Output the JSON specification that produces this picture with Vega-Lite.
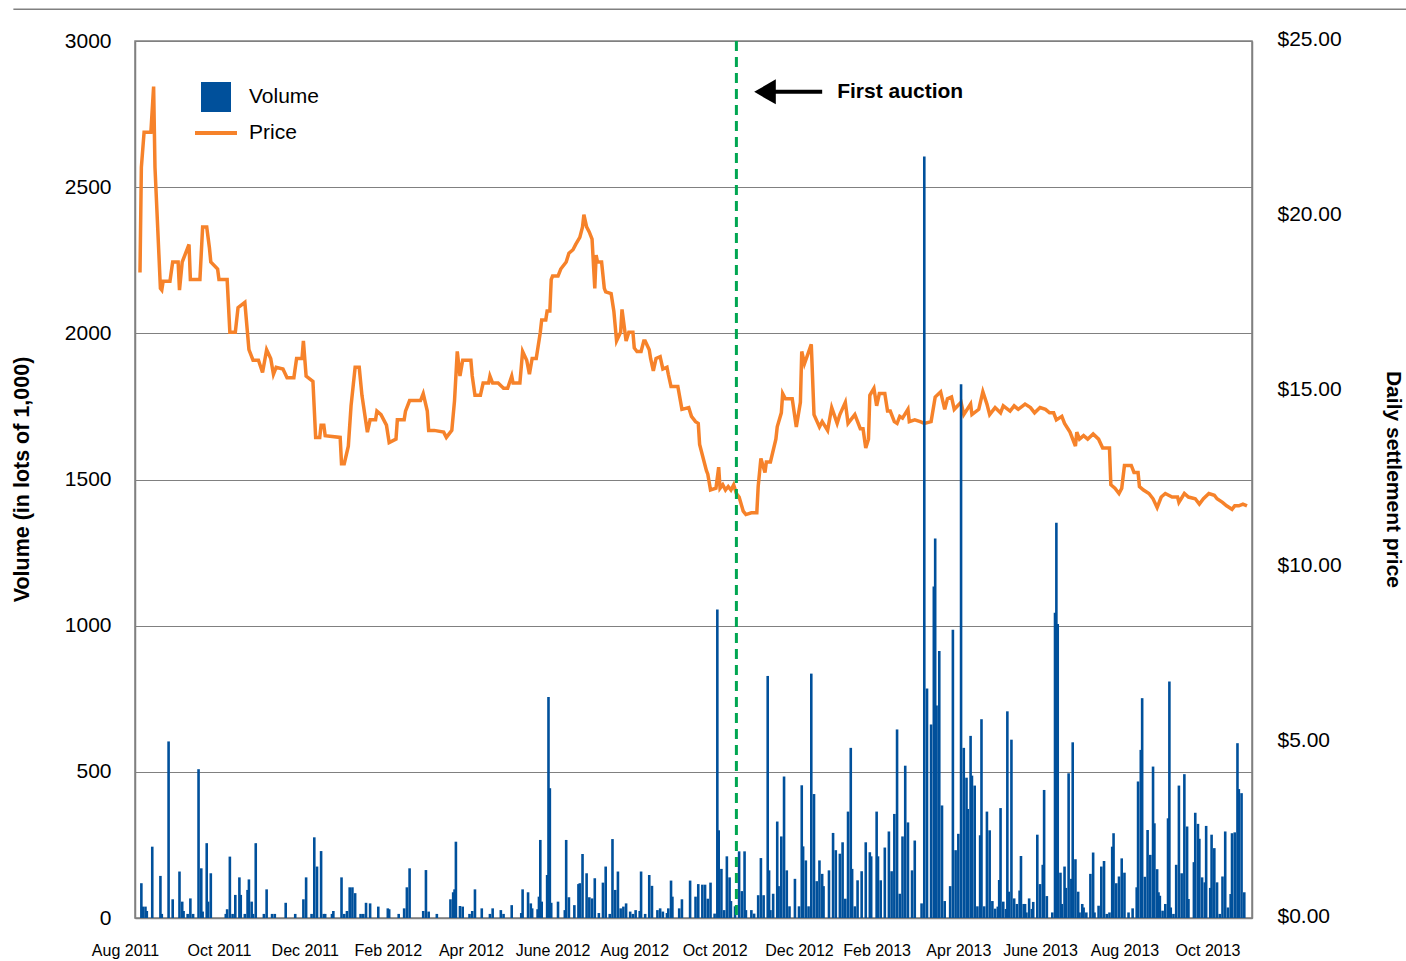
{
  "$schema": "https://vega.github.io/schema/vega-lite/v6.json",
  "width": 1117,
  "height": 877,
  "autosize": "none",
  "padding": {"left": 135, "top": 41, "right": 154, "bottom": 43},
  "background": "#ffffff",
  "config": {
    "font": "Liberation Sans",
    "view": {"stroke": "#808080", "strokeWidth": 1.5},
    "axis": {"domainColor": "#808080", "domainWidth": 1.5, "gridColor": "#808080", "gridWidth": 1, "ticks": false, "labelColor": "#000000", "titleColor": "#000000"}
  },
  "datasets": {
    "price": [
      {"date":"2011-08-09","price":18.4},{"date":"2011-08-10","price":21.4},{"date":"2011-08-12","price":22.4},{"date":"2011-08-17","price":22.4},{"date":"2011-08-19","price":23.7},{"date":"2011-08-20","price":21.4},{"date":"2011-08-24","price":17.95},{"date":"2011-08-25","price":17.9},{"date":"2011-08-26","price":18.15},{"date":"2011-08-31","price":18.15},
      {"date":"2011-09-02","price":18.7},{"date":"2011-09-06","price":18.7},{"date":"2011-09-07","price":17.9},{"date":"2011-09-09","price":18.7},{"date":"2011-09-14","price":19.2},{"date":"2011-09-15","price":18.2},{"date":"2011-09-22","price":18.2},{"date":"2011-09-24","price":19.7},{"date":"2011-09-27","price":19.7},{"date":"2011-09-29","price":19.1},{"date":"2011-09-30","price":18.7},
      {"date":"2011-10-05","price":18.5},{"date":"2011-10-06","price":18.2},{"date":"2011-10-12","price":18.2},{"date":"2011-10-14","price":16.7},{"date":"2011-10-18","price":16.7},{"date":"2011-10-20","price":17.4},{"date":"2011-10-25","price":17.55},{"date":"2011-10-28","price":16.2},{"date":"2011-10-31","price":15.9},
      {"date":"2011-11-04","price":15.9},{"date":"2011-11-07","price":15.55},{"date":"2011-11-10","price":16.2},{"date":"2011-11-13","price":15.95},{"date":"2011-11-15","price":15.5},{"date":"2011-11-17","price":15.7},{"date":"2011-11-22","price":15.65},{"date":"2011-11-25","price":15.4},{"date":"2011-11-30","price":15.4},
      {"date":"2011-12-02","price":15.95},{"date":"2011-12-06","price":15.95},{"date":"2011-12-07","price":16.45},{"date":"2011-12-09","price":15.45},{"date":"2011-12-14","price":15.3},{"date":"2011-12-16","price":13.7},{"date":"2011-12-19","price":13.7},{"date":"2011-12-20","price":14.05},{"date":"2011-12-22","price":14.05},{"date":"2011-12-23","price":13.75},
      {"date":"2012-01-03","price":13.7},{"date":"2012-01-04","price":12.95},{"date":"2012-01-06","price":12.95},{"date":"2012-01-09","price":13.45},{"date":"2012-01-11","price":14.6},{"date":"2012-01-14","price":15.7},{"date":"2012-01-17","price":15.7},{"date":"2012-01-19","price":14.9},{"date":"2012-01-23","price":13.85},{"date":"2012-01-25","price":14.2},{"date":"2012-01-29","price":14.2},{"date":"2012-01-30","price":14.45},
      {"date":"2012-02-02","price":14.35},{"date":"2012-02-06","price":14.05},{"date":"2012-02-08","price":13.55},{"date":"2012-02-13","price":13.65},{"date":"2012-02-14","price":14.2},{"date":"2012-02-19","price":14.2},{"date":"2012-02-20","price":14.45},{"date":"2012-02-23","price":14.75},
      {"date":"2012-03-02","price":14.75},{"date":"2012-03-04","price":14.95},{"date":"2012-03-07","price":14.45},{"date":"2012-03-08","price":13.9},{"date":"2012-03-12","price":13.9},{"date":"2012-03-19","price":13.85},{"date":"2012-03-21","price":13.7},{"date":"2012-03-25","price":13.9},{"date":"2012-03-27","price":14.75},{"date":"2012-03-29","price":16.15},{"date":"2012-03-31","price":15.45},
      {"date":"2012-04-02","price":15.9},{"date":"2012-04-08","price":15.9},{"date":"2012-04-09","price":15.45},{"date":"2012-04-11","price":14.9},{"date":"2012-04-15","price":14.9},{"date":"2012-04-17","price":15.25},{"date":"2012-04-21","price":15.25},{"date":"2012-04-22","price":15.45},{"date":"2012-04-24","price":15.25},{"date":"2012-04-28","price":15.25},
      {"date":"2012-05-02","price":15.1},{"date":"2012-05-05","price":15.1},{"date":"2012-05-08","price":15.45},{"date":"2012-05-09","price":15.25},{"date":"2012-05-14","price":15.25},{"date":"2012-05-16","price":16.15},{"date":"2012-05-19","price":15.9},{"date":"2012-05-21","price":15.5},{"date":"2012-05-23","price":15.95},{"date":"2012-05-26","price":15.95},{"date":"2012-05-29","price":16.7},{"date":"2012-05-30","price":17.05},
      {"date":"2012-06-02","price":17.05},{"date":"2012-06-03","price":17.3},{"date":"2012-06-05","price":17.3},{"date":"2012-06-06","price":18.2},{"date":"2012-06-07","price":18.3},{"date":"2012-06-11","price":18.3},{"date":"2012-06-13","price":18.5},{"date":"2012-06-17","price":18.7},{"date":"2012-06-19","price":18.95},{"date":"2012-06-22","price":19.05},{"date":"2012-06-24","price":19.2},{"date":"2012-06-27","price":19.4},{"date":"2012-06-29","price":19.7},{"date":"2012-06-30","price":20.05},
      {"date":"2012-07-02","price":19.7},{"date":"2012-07-04","price":19.55},{"date":"2012-07-06","price":19.35},{"date":"2012-07-08","price":17.95},{"date":"2012-07-09","price":18.9},{"date":"2012-07-10","price":18.7},{"date":"2012-07-13","price":18.7},{"date":"2012-07-15","price":17.95},{"date":"2012-07-16","price":17.85},{"date":"2012-07-20","price":17.8},{"date":"2012-07-22","price":17.3},{"date":"2012-07-24","price":16.45},{"date":"2012-07-27","price":16.7},{"date":"2012-07-28","price":17.35},{"date":"2012-07-31","price":16.45},
      {"date":"2012-08-02","price":16.7},{"date":"2012-08-05","price":16.7},{"date":"2012-08-06","price":16.25},{"date":"2012-08-08","price":16.15},{"date":"2012-08-11","price":16.15},{"date":"2012-08-13","price":16.45},{"date":"2012-08-14","price":16.45},{"date":"2012-08-17","price":16.2},{"date":"2012-08-18","price":15.95},{"date":"2012-08-20","price":15.6},{"date":"2012-08-22","price":15.95},{"date":"2012-08-25","price":16.0},{"date":"2012-08-27","price":15.65},{"date":"2012-08-30","price":15.7},{"date":"2012-08-31","price":15.5},
      {"date":"2012-09-02","price":15.15},{"date":"2012-09-07","price":15.15},{"date":"2012-09-10","price":14.5},{"date":"2012-09-15","price":14.55},{"date":"2012-09-17","price":14.3},{"date":"2012-09-20","price":14.15},{"date":"2012-09-22","price":14.1},{"date":"2012-09-23","price":13.5},{"date":"2012-09-26","price":13.05},{"date":"2012-09-28","price":12.75},{"date":"2012-09-29","price":12.65},
      {"date":"2012-10-01","price":12.2},{"date":"2012-10-05","price":12.25},{"date":"2012-10-07","price":12.85},{"date":"2012-10-08","price":12.25},{"date":"2012-10-10","price":12.35},{"date":"2012-10-12","price":12.2},{"date":"2012-10-14","price":12.3},{"date":"2012-10-16","price":12.2},{"date":"2012-10-18","price":12.35},{"date":"2012-10-20","price":12.1},{"date":"2012-10-22","price":12.0},{"date":"2012-10-25","price":11.6},{"date":"2012-10-27","price":11.5},{"date":"2012-10-31","price":11.55},
      {"date":"2012-11-04","price":11.55},{"date":"2012-11-05","price":12.3},{"date":"2012-11-07","price":13.1},{"date":"2012-11-10","price":12.7},{"date":"2012-11-11","price":13.0},{"date":"2012-11-14","price":13.0},{"date":"2012-11-18","price":13.65},{"date":"2012-11-19","price":14.0},{"date":"2012-11-22","price":14.4},{"date":"2012-11-23","price":14.95},{"date":"2012-11-25","price":14.8},{"date":"2012-11-30","price":14.8},
      {"date":"2012-12-03","price":14.0},{"date":"2012-12-06","price":14.7},{"date":"2012-12-07","price":16.15},{"date":"2012-12-09","price":15.8},{"date":"2012-12-14","price":16.35},{"date":"2012-12-16","price":14.35},{"date":"2012-12-20","price":14.0},{"date":"2012-12-22","price":14.15},{"date":"2012-12-26","price":13.9},{"date":"2012-12-29","price":14.55},
      {"date":"2013-01-02","price":14.1},{"date":"2013-01-04","price":14.35},{"date":"2013-01-08","price":14.7},{"date":"2013-01-10","price":14.1},{"date":"2013-01-15","price":14.35},{"date":"2013-01-19","price":13.95},{"date":"2013-01-21","price":13.95},{"date":"2013-01-23","price":13.4},{"date":"2013-01-25","price":13.65},{"date":"2013-01-26","price":14.9},{"date":"2013-01-29","price":15.1},{"date":"2013-01-31","price":14.6},
      {"date":"2013-02-02","price":14.95},{"date":"2013-02-06","price":14.95},{"date":"2013-02-08","price":14.45},{"date":"2013-02-10","price":14.45},{"date":"2013-02-13","price":14.15},{"date":"2013-02-15","price":14.1},{"date":"2013-02-17","price":14.3},{"date":"2013-02-19","price":14.25},{"date":"2013-02-23","price":14.5},{"date":"2013-02-24","price":14.15},{"date":"2013-02-28","price":14.2},
      {"date":"2013-03-04","price":14.15},{"date":"2013-03-07","price":14.1},{"date":"2013-03-12","price":14.15},{"date":"2013-03-15","price":14.85},{"date":"2013-03-19","price":15.0},{"date":"2013-03-22","price":14.5},{"date":"2013-03-24","price":14.8},{"date":"2013-03-27","price":14.85},{"date":"2013-03-29","price":14.5},
      {"date":"2013-04-03","price":14.7},{"date":"2013-04-05","price":14.35},{"date":"2013-04-10","price":14.65},{"date":"2013-04-11","price":14.35},{"date":"2013-04-16","price":14.5},{"date":"2013-04-19","price":15.0},{"date":"2013-04-22","price":14.65},{"date":"2013-04-24","price":14.35},{"date":"2013-04-28","price":14.55},
      {"date":"2013-05-02","price":14.4},{"date":"2013-05-04","price":14.6},{"date":"2013-05-09","price":14.45},{"date":"2013-05-12","price":14.6},{"date":"2013-05-15","price":14.5},{"date":"2013-05-20","price":14.65},{"date":"2013-05-24","price":14.55},{"date":"2013-05-27","price":14.4},{"date":"2013-05-31","price":14.55},
      {"date":"2013-06-04","price":14.5},{"date":"2013-06-07","price":14.4},{"date":"2013-06-10","price":14.4},{"date":"2013-06-12","price":14.2},{"date":"2013-06-16","price":14.3},{"date":"2013-06-18","price":14.1},{"date":"2013-06-22","price":13.85},{"date":"2013-06-26","price":13.45},{"date":"2013-06-27","price":13.85},{"date":"2013-06-29","price":13.65},
      {"date":"2013-07-02","price":13.75},{"date":"2013-07-05","price":13.65},{"date":"2013-07-09","price":13.8},{"date":"2013-07-13","price":13.65},{"date":"2013-07-16","price":13.4},{"date":"2013-07-21","price":13.4},{"date":"2013-07-22","price":12.35},{"date":"2013-07-25","price":12.25},{"date":"2013-07-28","price":12.1},{"date":"2013-07-30","price":12.25},
      {"date":"2013-08-01","price":12.9},{"date":"2013-08-06","price":12.9},{"date":"2013-08-08","price":12.7},{"date":"2013-08-11","price":12.7},{"date":"2013-08-12","price":12.3},{"date":"2013-08-15","price":12.2},{"date":"2013-08-19","price":12.1},{"date":"2013-08-22","price":11.95},{"date":"2013-08-25","price":11.7},{"date":"2013-08-28","price":12.0},{"date":"2013-08-31","price":12.1},
      {"date":"2013-09-05","price":12.0},{"date":"2013-09-09","price":12.0},{"date":"2013-09-10","price":11.85},{"date":"2013-09-14","price":12.1},{"date":"2013-09-17","price":12.0},{"date":"2013-09-22","price":11.95},{"date":"2013-09-25","price":11.8},{"date":"2013-09-28","price":11.95},
      {"date":"2013-10-02","price":12.1},{"date":"2013-10-06","price":12.05},{"date":"2013-10-08","price":11.95},{"date":"2013-10-12","price":11.85},{"date":"2013-10-15","price":11.75},{"date":"2013-10-19","price":11.65},{"date":"2013-10-21","price":11.75},{"date":"2013-10-24","price":11.75},{"date":"2013-10-27","price":11.8},{"date":"2013-10-30","price":11.75}
    ],
    "vol": [
      {"date":"2011-08-10","volume":119},{"date":"2011-08-11","volume":39},{"date":"2011-08-13","volume":39},{"date":"2011-08-14","volume":24},{"date":"2011-08-18","volume":244},{"date":"2011-08-24","volume":144},{"date":"2011-08-25","volume":14},{"date":"2011-08-30","volume":604},
      {"date":"2011-09-02","volume":64},{"date":"2011-09-07","volume":159},{"date":"2011-09-09","volume":56},{"date":"2011-09-10","volume":24},{"date":"2011-09-13","volume":14},{"date":"2011-09-15","volume":67},{"date":"2011-09-17","volume":14},{"date":"2011-09-21","volume":509},{"date":"2011-09-23","volume":170},{"date":"2011-09-24","volume":22},{"date":"2011-09-27","volume":256},{"date":"2011-09-28","volume":56},{"date":"2011-09-30","volume":153},
      {"date":"2011-10-11","volume":14},{"date":"2011-10-12","volume":30},{"date":"2011-10-14","volume":210},{"date":"2011-10-16","volume":14},{"date":"2011-10-18","volume":79},{"date":"2011-10-21","volume":139},{"date":"2011-10-22","volume":79},{"date":"2011-10-25","volume":14},{"date":"2011-10-27","volume":96},{"date":"2011-10-28","volume":132},{"date":"2011-10-30","volume":56},{"date":"2011-10-31","volume":14},
      {"date":"2011-11-02","volume":256},{"date":"2011-11-08","volume":14},{"date":"2011-11-10","volume":98},{"date":"2011-11-14","volume":14},{"date":"2011-11-16","volume":14},{"date":"2011-11-24","volume":52},
      {"date":"2011-12-01","volume":14},{"date":"2011-12-07","volume":64},{"date":"2011-12-09","volume":139},{"date":"2011-12-13","volume":14},{"date":"2011-12-15","volume":276},{"date":"2011-12-17","volume":176},{"date":"2011-12-20","volume":229},{"date":"2011-12-22","volume":14},{"date":"2011-12-23","volume":14},{"date":"2011-12-28","volume":14},{"date":"2011-12-29","volume":24},
      {"date":"2012-01-04","volume":139},{"date":"2012-01-06","volume":14},{"date":"2012-01-08","volume":24},{"date":"2012-01-10","volume":105},{"date":"2012-01-12","volume":105},{"date":"2012-01-14","volume":85},{"date":"2012-01-18","volume":14},{"date":"2012-01-20","volume":14},{"date":"2012-01-22","volume":52},{"date":"2012-01-25","volume":50},{"date":"2012-01-31","volume":39},
      {"date":"2012-02-07","volume":33},{"date":"2012-02-08","volume":30},{"date":"2012-02-15","volume":14},{"date":"2012-02-19","volume":33},{"date":"2012-02-21","volume":105},{"date":"2012-02-23","volume":170},
      {"date":"2012-03-04","volume":24},{"date":"2012-03-06","volume":164},{"date":"2012-03-08","volume":22},{"date":"2012-03-14","volume":14},{"date":"2012-03-24","volume":64},{"date":"2012-03-26","volume":88},{"date":"2012-03-27","volume":98},{"date":"2012-03-28","volume":261},{"date":"2012-03-31","volume":41},
      {"date":"2012-04-02","volume":39},{"date":"2012-04-07","volume":14},{"date":"2012-04-09","volume":24},{"date":"2012-04-11","volume":98},{"date":"2012-04-16","volume":33},{"date":"2012-04-22","volume":14},{"date":"2012-04-24","volume":33},{"date":"2012-04-30","volume":27},
      {"date":"2012-05-02","volume":14},{"date":"2012-05-08","volume":44},{"date":"2012-05-15","volume":17},{"date":"2012-05-16","volume":98},{"date":"2012-05-20","volume":88},{"date":"2012-05-22","volume":50},{"date":"2012-05-23","volume":33},{"date":"2012-05-27","volume":30},{"date":"2012-05-28","volume":73},{"date":"2012-05-29","volume":267},{"date":"2012-05-30","volume":56},
      {"date":"2012-06-03","volume":147},{"date":"2012-06-04","volume":756},{"date":"2012-06-05","volume":444},{"date":"2012-06-06","volume":52},{"date":"2012-06-11","volume":56},{"date":"2012-06-16","volume":27},{"date":"2012-06-17","volume":267},{"date":"2012-06-19","volume":71},{"date":"2012-06-23","volume":44},{"date":"2012-06-26","volume":116},{"date":"2012-06-27","volume":119},{"date":"2012-06-29","volume":219},
      {"date":"2012-07-02","volume":153},{"date":"2012-07-04","volume":71},{"date":"2012-07-06","volume":67},{"date":"2012-07-08","volume":136},{"date":"2012-07-11","volume":17},{"date":"2012-07-14","volume":121},{"date":"2012-07-16","volume":176},{"date":"2012-07-19","volume":14},{"date":"2012-07-21","volume":270},{"date":"2012-07-23","volume":96},{"date":"2012-07-25","volume":159},{"date":"2012-07-27","volume":33},{"date":"2012-07-29","volume":39},{"date":"2012-07-31","volume":50},
      {"date":"2012-08-03","volume":22},{"date":"2012-08-05","volume":14},{"date":"2012-08-07","volume":27},{"date":"2012-08-10","volume":24},{"date":"2012-08-11","volume":159},{"date":"2012-08-14","volume":14},{"date":"2012-08-17","volume":147},{"date":"2012-08-19","volume":110},{"date":"2012-08-23","volume":27},{"date":"2012-08-25","volume":33},{"date":"2012-08-27","volume":22},{"date":"2012-08-30","volume":17},{"date":"2012-08-31","volume":33},
      {"date":"2012-09-02","volume":128},{"date":"2012-09-03","volume":73},{"date":"2012-09-08","volume":33},{"date":"2012-09-10","volume":64},{"date":"2012-09-16","volume":128},{"date":"2012-09-20","volume":73},{"date":"2012-09-22","volume":116},{"date":"2012-09-25","volume":114},{"date":"2012-09-27","volume":114},{"date":"2012-09-29","volume":66},
      {"date":"2012-10-01","volume":121},{"date":"2012-10-04","volume":15},{"date":"2012-10-06","volume":1055},{"date":"2012-10-07","volume":300},{"date":"2012-10-09","volume":168},{"date":"2012-10-11","volume":27},{"date":"2012-10-13","volume":211},{"date":"2012-10-15","volume":139},{"date":"2012-10-16","volume":58},{"date":"2012-10-19","volume":40},{"date":"2012-10-22","volume":228},{"date":"2012-10-24","volume":92},{"date":"2012-10-26","volume":228},{"date":"2012-10-27","volume":27},{"date":"2012-10-31","volume":27},
      {"date":"2012-11-02","volume":15},{"date":"2012-11-05","volume":78},{"date":"2012-11-07","volume":205},{"date":"2012-11-09","volume":78},{"date":"2012-11-12","volume":828},{"date":"2012-11-13","volume":163},{"date":"2012-11-14","volume":27},{"date":"2012-11-16","volume":83},{"date":"2012-11-19","volume":330},{"date":"2012-11-20","volume":109},{"date":"2012-11-22","volume":279},{"date":"2012-11-24","volume":484},{"date":"2012-11-26","volume":163},{"date":"2012-11-28","volume":40},
      {"date":"2012-12-02","volume":134},{"date":"2012-12-05","volume":40},{"date":"2012-12-07","volume":454},{"date":"2012-12-08","volume":245},{"date":"2012-12-10","volume":197},{"date":"2012-12-12","volume":40},{"date":"2012-12-14","volume":836},{"date":"2012-12-16","volume":424},{"date":"2012-12-18","volume":126},{"date":"2012-12-20","volume":197},{"date":"2012-12-22","volume":151},{"date":"2012-12-23","volume":109},{"date":"2012-12-27","volume":163},{"date":"2012-12-30","volume":291},
      {"date":"2013-01-01","volume":232},{"date":"2013-01-04","volume":220},{"date":"2013-01-06","volume":259},{"date":"2013-01-08","volume":66},{"date":"2013-01-10","volume":364},{"date":"2013-01-12","volume":582},{"date":"2013-01-13","volume":168},{"date":"2013-01-15","volume":40},{"date":"2013-01-17","volume":129},{"date":"2013-01-20","volume":160},{"date":"2013-01-23","volume":259},{"date":"2013-01-26","volume":225},{"date":"2013-01-27","volume":211},{"date":"2013-01-31","volume":364},
      {"date":"2013-02-01","volume":211},{"date":"2013-02-03","volume":129},{"date":"2013-02-06","volume":241},{"date":"2013-02-09","volume":296},{"date":"2013-02-11","volume":160},{"date":"2013-02-13","volume":356},{"date":"2013-02-15","volume":645},{"date":"2013-02-17","volume":83},{"date":"2013-02-19","volume":279},{"date":"2013-02-21","volume":521},{"date":"2013-02-23","volume":327},{"date":"2013-02-26","volume":163},{"date":"2013-02-28","volume":265},
      {"date":"2013-03-05","volume":50},{"date":"2013-03-07","volume":2605},{"date":"2013-03-09","volume":785},{"date":"2013-03-12","volume":662},{"date":"2013-03-14","volume":1134},{"date":"2013-03-15","volume":1298},{"date":"2013-03-16","volume":727},{"date":"2013-03-18","volume":913},{"date":"2013-03-20","volume":385},{"date":"2013-03-22","volume":58},{"date":"2013-03-26","volume":109},{"date":"2013-03-28","volume":986},{"date":"2013-03-30","volume":232},
      {"date":"2013-04-01","volume":288},{"date":"2013-04-03","volume":1826},{"date":"2013-04-05","volume":582},{"date":"2013-04-07","volume":480},{"date":"2013-04-08","volume":373},{"date":"2013-04-10","volume":623},{"date":"2013-04-11","volume":487},{"date":"2013-04-13","volume":453},{"date":"2013-04-15","volume":40},{"date":"2013-04-17","volume":283},{"date":"2013-04-18","volume":680},{"date":"2013-04-20","volume":40},{"date":"2013-04-22","volume":364},{"date":"2013-04-24","volume":300},{"date":"2013-04-26","volume":58},{"date":"2013-04-28","volume":32},{"date":"2013-04-30","volume":39},
      {"date":"2013-05-01","volume":130},{"date":"2013-05-02","volume":376},{"date":"2013-05-04","volume":56},{"date":"2013-05-06","volume":31},{"date":"2013-05-07","volume":707},{"date":"2013-05-08","volume":90},{"date":"2013-05-10","volume":610},{"date":"2013-05-12","volume":67},{"date":"2013-05-14","volume":48},{"date":"2013-05-16","volume":94},{"date":"2013-05-17","volume":212},{"date":"2013-05-19","volume":48},{"date":"2013-05-20","volume":48},{"date":"2013-05-21","volume":19},{"date":"2013-05-23","volume":67},{"date":"2013-05-25","volume":31},{"date":"2013-05-26","volume":55},{"date":"2013-05-29","volume":285},{"date":"2013-05-31","volume":116},
      {"date":"2013-06-02","volume":182},{"date":"2013-06-03","volume":438},{"date":"2013-06-05","volume":75},{"date":"2013-06-09","volume":19},{"date":"2013-06-11","volume":1044},{"date":"2013-06-12","volume":1352},{"date":"2013-06-13","volume":1006},{"date":"2013-06-15","volume":155},{"date":"2013-06-16","volume":48},{"date":"2013-06-18","volume":176},{"date":"2013-06-19","volume":103},{"date":"2013-06-21","volume":495},{"date":"2013-06-23","volume":134},{"date":"2013-06-24","volume":601},{"date":"2013-06-26","volume":201},{"date":"2013-06-28","volume":90},{"date":"2013-06-29","volume":19},
      {"date":"2013-07-01","volume":48},{"date":"2013-07-02","volume":36},{"date":"2013-07-04","volume":19},{"date":"2013-07-07","volume":151},{"date":"2013-07-09","volume":224},{"date":"2013-07-10","volume":19},{"date":"2013-07-13","volume":42},{"date":"2013-07-15","volume":176},{"date":"2013-07-17","volume":195},{"date":"2013-07-19","volume":14},{"date":"2013-07-21","volume":19},{"date":"2013-07-23","volume":244},{"date":"2013-07-24","volume":290},{"date":"2013-07-26","volume":119},{"date":"2013-07-28","volume":142},{"date":"2013-07-30","volume":204},
      {"date":"2013-08-01","volume":155},{"date":"2013-08-04","volume":19},{"date":"2013-08-07","volume":33},{"date":"2013-08-10","volume":105},{"date":"2013-08-11","volume":467},{"date":"2013-08-13","volume":575},{"date":"2013-08-14","volume":752},{"date":"2013-08-16","volume":141},{"date":"2013-08-18","volume":301},{"date":"2013-08-20","volume":216},{"date":"2013-08-22","volume":518},{"date":"2013-08-23","volume":324},{"date":"2013-08-25","volume":167},{"date":"2013-08-26","volume":88},{"date":"2013-08-27","volume":76},{"date":"2013-08-29","volume":25},{"date":"2013-08-31","volume":48},
      {"date":"2013-09-02","volume":341},{"date":"2013-09-03","volume":809},{"date":"2013-09-04","volume":36},{"date":"2013-09-06","volume":14},{"date":"2013-09-08","volume":182},{"date":"2013-09-10","volume":453},{"date":"2013-09-12","volume":153},{"date":"2013-09-14","volume":492},{"date":"2013-09-16","volume":313},{"date":"2013-09-17","volume":65},{"date":"2013-09-21","volume":191},{"date":"2013-09-22","volume":360},{"date":"2013-09-24","volume":322},{"date":"2013-09-25","volume":271},{"date":"2013-09-27","volume":139},{"date":"2013-09-29","volume":122},{"date":"2013-09-30","volume":315},
      {"date":"2013-10-03","volume":103},{"date":"2013-10-04","volume":285},{"date":"2013-10-06","volume":239},{"date":"2013-10-08","volume":122},{"date":"2013-10-10","volume":14},{"date":"2013-10-12","volume":142},{"date":"2013-10-14","volume":296},{"date":"2013-10-16","volume":36},{"date":"2013-10-18","volume":82},{"date":"2013-10-19","volume":290},{"date":"2013-10-21","volume":293},{"date":"2013-10-23","volume":598},{"date":"2013-10-24","volume":441},{"date":"2013-10-26","volume":427},{"date":"2013-10-28","volume":88}
    ],
    "auction": [{"date":"2012-10-20","event":"First auction"}],
    "arrow": [{"date":"2012-11-13","date_end":"2012-12-22","volume":2826}],
    "arrowhead": [{"date":"2012-11-10","volume":2826}],
    "note": [{"date":"2013-01-02","volume":2826,"label":"First auction"}]
  },
  "encoding": {
    "x": {
      "field": "date",
      "type": "temporal",
      "scale": {"type": "utc", "domain": [{"year":2011,"month":8,"date":9,"utc":true},{"year":2013,"month":10,"date":30,"utc":true}]},
      "axis": {
        "title": null,
        "grid": false,
        "values": [
          {"year":2011,"month":8,"date":9,"utc":true},{"year":2011,"month":10,"date":6,"utc":true},{"year":2011,"month":12,"date":8,"utc":true},
          {"year":2012,"month":2,"date":7,"utc":true},{"year":2012,"month":4,"date":8,"utc":true},{"year":2012,"month":6,"date":7,"utc":true},
          {"year":2012,"month":8,"date":6,"utc":true},{"year":2012,"month":10,"date":4,"utc":true},{"year":2012,"month":12,"date":5,"utc":true},
          {"year":2013,"month":1,"date":31,"utc":true},{"year":2013,"month":4,"date":1,"utc":true},{"year":2013,"month":5,"date":31,"utc":true},
          {"year":2013,"month":8,"date":1,"utc":true},{"year":2013,"month":10,"date":1,"utc":true}
        ],
        "labelExpr": "replace(utcFormat(datum.value + 1296000000, '%b %Y'), 'Jun ', 'June ')",
        "labelOffset": {"condition": {"test": "datum.value < 1313000000000", "value": -15}, "value": 0},
        "labelFont": "Liberation Sans",
        "labelFontSize": 16,
        "labelPadding": 24,
        "labelFlush": false,
        "labelOverlap": false,
        "labelBound": false
      }
    }
  },
  "layer": [
    {
      "data": {"name": "price"},
      "mark": {"type": "line", "strokeWidth": 3.5, "interpolate": "linear"},
      "encoding": {
        "y": {
          "field": "price",
          "type": "quantitative",
          "scale": {"domain": [0, 25], "nice": false, "zero": true},
          "axis": {
            "orient": "right",
            "values": [0, 5, 10, 15, 20, 25],
            "format": "$.2f",
            "grid": false,
            "labelFontSize": 21,
            "labelPadding": 25,
            "labelOffset": -2,
            "title": "Daily settlement price",
            "titleFontSize": 21,
            "titleFontWeight": "bold",
            "titleAngle": 90,
            "titleX": 140,
            "titleY": 438,
            "titleAlign": "center",
            "titleBaseline": "middle"
          }
        },
        "color": {
          "datum": "Price",
          "scale": {"domain": ["Volume", "Price"], "range": ["#00509B", "#F6822A"]},
          "legend": {
            "title": null,
            "orient": "none",
            "legendX": 66,
            "legendY": 41,
            "padding": 0,
            "labelFont": "Liberation Sans",
            "labelFontSize": 21,
            "labelColor": "#000000",
            "symbolSize": 676,
            "symbolStrokeWidth": 4,
            "labelOffset": 18,
            "rowPadding": -7,
            "encode": {
              "symbols": {
                "update": {
                  "shape": {"signal": "datum.value === 'Price' ? 'stroke' : 'square'"},
                  "size": {"signal": "datum.value === 'Price' ? 1764 : 676"},
                  "fill": {"signal": "datum.value === 'Price' ? 'transparent' : '#00509B'"},
                  "stroke": {"signal": "datum.value === 'Price' ? '#F6822A' : 'transparent'"},
                  "strokeWidth": {"value": 4},
                  "opacity": {"value": 1}
                }
              }
            }
          }
        }
      }
    },
    {
      "layer": [
        {
          "data": {"name": "vol"},
          "mark": {"type": "bar", "size": 2.6},
          "encoding": {
            "y": {
              "field": "volume",
              "type": "quantitative",
              "stack": null,
              "scale": {"domain": [0, 3000], "nice": false},
              "axis": {
                "orient": "left",
                "values": [0, 500, 1000, 1500, 2000, 2500, 3000],
                "format": "d",
                "grid": true,
                "labelFontSize": 21,
                "labelPadding": 24,
                "title": "Volume (in lots of 1,000)",
                "titleFontSize": 21.5,
                "titleFontWeight": "bold",
                "titleAngle": 270,
                "titleX": -113,
                "titleY": 438,
                "titleAlign": "center",
                "titleBaseline": "middle"
              }
            },
            "color": {
              "datum": "Volume",
              "scale": {"domain": ["Volume", "Price"], "range": ["#00509B", "#F6822A"]}
            }
          }
        },
        {
          "data": {"name": "auction"},
          "mark": {"type": "rule", "color": "#00A651", "strokeWidth": 3, "strokeDash": [10, 6]},
          "encoding": {}
        },
        {
          "data": {"name": "arrow"},
          "mark": {"type": "rule", "color": "#000000", "strokeWidth": 4},
          "encoding": {
            "x2": {"field": "date_end"},
            "y": {"field": "volume", "type": "quantitative"}
          }
        },
        {
          "data": {"name": "arrowhead"},
          "mark": {"type": "point", "shape": "triangle-left", "size": 625, "filled": true, "color": "#000000", "opacity": 1},
          "encoding": {
            "y": {"field": "volume", "type": "quantitative"}
          }
        },
        {
          "data": {"name": "note"},
          "mark": {"type": "text", "align": "left", "baseline": "middle", "font": "Liberation Sans", "fontSize": 21, "fontWeight": "bold", "color": "#000000"},
          "encoding": {
            "y": {"field": "volume", "type": "quantitative"},
            "text": {"field": "label"}
          }
        },
        {
          "data": {"values": [{"from": "2011-05-08", "to": "2014-03-01", "level": 3109}]},
          "mark": {"type": "rule", "color": "#808080", "strokeWidth": 1.5, "clip": false},
          "encoding": {
            "x": {"field": "from", "type": "temporal"},
            "x2": {"field": "to"},
            "y": {"field": "level", "type": "quantitative"}
          }
        }
      ]
    }
  ],
  "resolve": {"scale": {"y": "independent"}}
}
